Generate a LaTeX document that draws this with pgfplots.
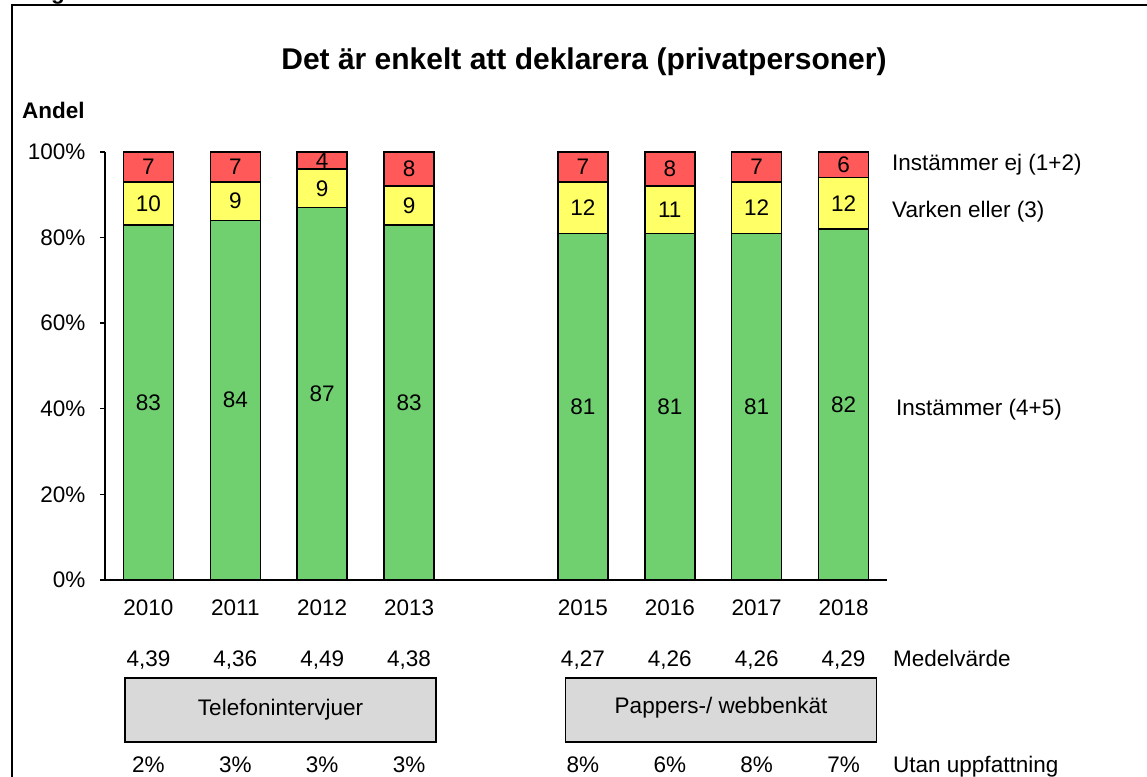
\documentclass[border=0pt]{standalone}
\usepackage{pgfplots}
\pgfplotsset{compat=1.18}
\usepackage{pgfplotstable}
\usepackage{fontspec}
\setmainfont{Liberation Sans}
\definecolor{cRed}{RGB}{255,89,89}
\definecolor{cYel}{RGB}{255,255,102}
\definecolor{cGrn}{RGB}{112,208,112}
\definecolor{cBox}{RGB}{217,217,217}
\newcommand\fs{\fontsize{22.5}{26}\selectfont}

\pgfplotstableread{
x year g v r mv uu
0 2010 83 10 7 4,39 2
1 2011 84 9 7 4,36 3
2 2012 87 9 4 4,49 3
3 2013 83 9 8 4,38 3
5 2015 81 12 7 4,27 8
6 2016 81 11 8 4,26 6
7 2017 81 12 7 4,26 8
8 2018 82 12 6 4,29 7
}\data

\begin{document}
\begin{tikzpicture}[x=1pt,y=1pt]
\path[use as bounding box] (0,0) rectangle (1147,776);
\clip (0,0) rectangle (1147,776);
\draw[line width=2pt] (12,771) rectangle (1200,-20);
\node[font=\bfseries\fs, anchor=base west, inner sep=0pt] at (16,776) {Diagram};
\node[font=\bfseries\fontsize{30}{36}\selectfont, anchor=base, inner sep=0pt] at (584,706) {Det är enkelt att deklarera (privatpersoner)};
\node[font=\bfseries\fs, anchor=base west, inner sep=0pt] at (22,657) {Andel};

\begin{axis}[scale only axis, width=782pt, height=428pt, at={(105pt,196pt)}, anchor=south west,
  xmin=-0.5, xmax=8.5, ymin=0, ymax=100, enlargelimits=false,
  ybar stacked, bar width=50pt,
  axis x line*=bottom, axis y line*=left,
  axis line style={line width=1.4pt, black},
  xtick={0,1,2,3,5,6,7,8}, xticklabels={2010,2011,2012,2013,2015,2016,2017,2018},
  x tick style={draw=none},
  ytick={0,20,...,100}, yticklabel={\pgfmathprintnumber{\tick}\%},
  ytick align=outside, major tick length=5pt, y tick style={line width=1.4pt, black},
  tick label style={font=\fs}, /pgf/number format/assume math mode=true,
  xticklabel style={yshift=-16pt},
  yticklabel style={xshift=-11pt},
]
\addplot[fill=cGrn, draw=black, line width=1.5pt] table[x=x,y=g]{\data};
\addplot[fill=cYel, draw=black, line width=1.5pt] table[x=x,y=v]{\data};
\addplot[fill=cRed, draw=black, line width=1.5pt] table[x=x,y=r]{\data};
\end{axis}

\begin{axis}[scale only axis, width=782pt, height=428pt, at={(105pt,196pt)}, anchor=south west,
  xmin=-0.5, xmax=8.5, ymin=0, ymax=100, enlargelimits=false, hide axis, clip=false,
  nodes near coords={\pgfplotspointmeta}, point meta=explicit symbolic,
  every node near coord/.append style={font=\fs, anchor=center, inner sep=0pt, black},
]
\draw[fill=cBox, line width=1.4pt] (axis cs:-0.27,-22.9) rectangle (axis cs:3.31,-37.85);
\node[font=\fs] at (axis cs:1.52,-30.4) {Telefonintervjuer};
\draw[fill=cBox, line width=1.4pt] (axis cs:4.80,-22.9) rectangle (axis cs:8.38,-37.85);
\node[font=\fs] at (axis cs:6.59,-29.8) {Pappers-/ webbenkät};
\addplot[draw=none] table[x=x, y expr=\thisrow{g}/2, meta=g]{\data};
\addplot[draw=none] table[x=x, y expr=\thisrow{g}+\thisrow{v}/2, meta=v]{\data};
\addplot[draw=none] table[x=x, y expr=\thisrow{g}+\thisrow{v}+\thisrow{r}/2, meta=r]{\data};
\addplot[draw=none, every node near coord/.append style={anchor=base}] table[x=x, y expr=-20.1, meta=mv]{\data};
\addplot[draw=none, nodes near coords={\pgfplotspointmeta\%}, every node near coord/.append style={anchor=base}] table[x=x, y expr=-44.9, meta=uu]{\data};
\end{axis}

\node[font=\fs, anchor=base west, inner sep=0pt] at (892,605) {Instämmer ej (1+2)};
\node[font=\fs, anchor=base west, inner sep=0pt] at (892,558) {Varken eller (3)};
\node[font=\fs, anchor=base west, inner sep=0pt] at (896,360) {Instämmer (4+5)};
\node[font=\fs, anchor=base west, inner sep=0pt] at (893,110) {Medelvärde};
\node[font=\fs, anchor=base west, inner sep=0pt] at (893,4) {Utan uppfattning};
\end{tikzpicture}
\end{document}
